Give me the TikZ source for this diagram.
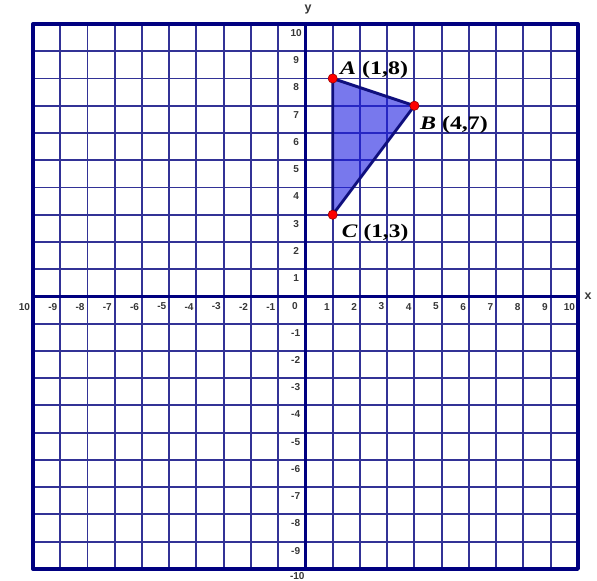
\documentclass[tikz,border=0pt]{standalone}
\usepackage{fontspec}
\setmainfont{Liberation Serif}
\newfontfamily\numfont{Liberation Sans}
\definecolor{gridc}{RGB}{50,50,150}
\definecolor{navyc}{RGB}{0,0,128}
\definecolor{edgec}{RGB}{15,15,125}
\definecolor{fillc}{RGB}{30,30,225}
\definecolor{dotred}{RGB}{255,0,0}
\definecolor{dotedge}{RGB}{150,0,0}
\definecolor{numc}{RGB}{55,55,55}
\begin{document}
\begin{tikzpicture}[x=1cm,y=1cm,
  gridline/.style={draw=gridc, line width=2pt},
  axisline/.style={draw=navyc, line width=4pt},
  num/.style={font=\numfont\bfseries\fontsize{10.5}{12}\selectfont, text=numc, inner sep=0pt},
  axlab/.style={font=\numfont\bfseries\fontsize{13}{14}\selectfont, text=numc, inner sep=0pt},
  ptlabel/.style={font=\fontsize{20}{22}\selectfont\bfseries, inner sep=0pt, anchor=base west},
  dot/.style={circle, fill=dotred, draw=dotedge, line width=0.6pt, minimum size=0.34cm, inner sep=0pt},
  triedge/.style={draw=edgec, line width=3pt, line join=round}]
\useasboundingbox (-11.21,-10.44) rectangle (10.70,10.88);
% grid
\foreach \k in {-9,...,9} {
  \draw[gridline] (\k,-10) -- (\k,10);
  \draw[gridline] (-10,\k) -- (10,\k);
}
% triangle
\coordinate (pA) at (1,8);
\coordinate (pB) at (4,7);
\coordinate (pC) at (1,3);
\fill[fillc, fill opacity=0.6] (pA) -- (pB) -- (pC) -- cycle;
% axes and border
\draw[axisline] (-10,0) -- (10,0);
\draw[axisline] (0,-10) -- (0,10);
\draw[axisline, line join=round] (-10,-10) rectangle (10,10);
% triangle edges
\draw[triedge] (pA) -- (pB) -- (pC) -- cycle;
\node[dot] (A) at (pA) {};
\node[dot] (B) at (pB) {};
\node[dot] (C) at (pC) {};
% point labels
\node[ptlabel] (lA) at (1.27,8.13) {\scalebox{1.25}[1]{\textit{A} (1,8)}};
\node[ptlabel] (lB) at (4.20,6.13) {\scalebox{1.25}[1]{\textit{B} (4,7)}};
\node[ptlabel] (lC) at (1.33,2.17) {\scalebox{1.22}[1]{\textit{C} (1,3)}};
% x-axis numbers
\foreach \k in {-9,...,-1} { \node[num, anchor=east] (xl\k) at (\k-0.1,-0.37) {\k}; }
\foreach \k in {1,...,10} { \node[num, anchor=east] (xl\k) at (\k-0.1,-0.37) {\k}; }
\node[num, anchor=east] (xlm10) at (-10.1,-0.37) {10};
% y-axis numbers
\foreach \k in {-9,...,-1} { \node[num] (yl\k) at (-0.36,\k-0.33) {\k}; }
\foreach \k in {1,...,10} { \node[num] (yl\k) at (-0.34,\k-0.33) {\k}; }
\node[num] (ylm10) at (-0.3,-10.27) {-10};
\node[num] (origin) at (-0.39,-0.35) {0};
% axis names
\node[axlab] (xname) at (10.37,0.02) {x};
\node[axlab] (yname) at (0.10,10.52) {y};
\end{tikzpicture}
\end{document}
